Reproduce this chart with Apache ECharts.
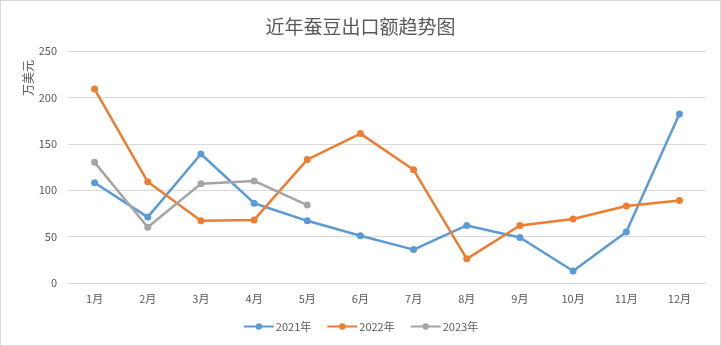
<!DOCTYPE html>
<html>
<head>
<meta charset="utf-8">
<script src="https://cdn.jsdelivr.net/npm/echarts@6/dist/echarts.min.js"></script>
<style>
  html, body { margin: 0; padding: 0; background: #fff; }
  #chart { width: 719px; height: 344px; border: 1px solid #d9d9d9; }
</style>
</head>
<body>
<div id="chart"></div>
<script>
// Monthly broad-bean export value (10k USD)
const months = ['1月', '2月', '3月', '4月', '5月', '6月', '7月', '8月', '9月', '10月', '11月', '12月'];
const seriesNames = ['2021年', '2022年', '2023年'];
const values2021 = [108, 71, 139, 86, 67, 51, 36, 62, 49, 13, 55, 182];
const values2022 = [209, 109, 67, 68, 133, 161, 122, 26, 62, 69, 83, 89];
const values2023 = [130, 60, 107, 110, 84];
const colors = ['#5B9BD5', '#ED7D31', '#A5A5A5'];
const unitName = '万美元';

const font = '"Noto Sans CJK SC", "Noto Sans", sans-serif';
const chart = echarts.init(document.getElementById('chart'));

function lineSeries(name, data, color) {
  return {
    name: name,
    type: 'line',
    data: data,
    symbol: 'circle',
    symbolSize: 7,
    lineStyle: { width: 2.5, color: color },
    itemStyle: { color: color },
    emphasis: { disabled: true },
    animation: false
  };
}

chart.setOption({
  animation: false,
  color: colors,
  title: {
    text: '近年蚕豆出口额趋势图',
    left: 'center',
    top: 11,
    textStyle: { fontFamily: font, fontSize: 19, fontWeight: 'normal', color: '#595959' }
  },
  // vertical unit label beside the value axis
  graphic: [{
    type: 'text',
    x: 27,
    y: 77,
    rotation: Math.PI / 2,
    style: {
      text: unitName,
      font: '12px ' + font,
      fill: '#595959',
      align: 'center',
      verticalAlign: 'middle'
    }
  }],
  grid: { left: 67, right: 14, top: 50, bottom: 62 },
  legend: {
    bottom: 8,
    left: 'center',
    itemWidth: 30,
    itemHeight: 8,
    itemGap: 15,
    textStyle: { fontFamily: font, fontSize: 11, color: '#595959', padding: [0, 0, 0, -3] },
    data: seriesNames
  },
  xAxis: {
    type: 'category',
    data: months,
    boundaryGap: true,
    axisLine: { show: true, lineStyle: { color: '#d9d9d9' } },
    axisTick: { show: false },
    axisLabel: { fontFamily: font, fontSize: 11, color: '#595959', margin: 10 }
  },
  yAxis: {
    type: 'value',
    min: 0,
    max: 250,
    interval: 50,
    axisLine: { show: false },
    axisTick: { show: false },
    axisLabel: { fontFamily: font, fontSize: 11, color: '#595959', margin: 11 },
    splitLine: { lineStyle: { color: '#d9d9d9', width: 1 } }
  },
  series: [
    lineSeries(seriesNames[0], values2021, colors[0]),
    lineSeries(seriesNames[1], values2022, colors[1]),
    lineSeries(seriesNames[2], values2023, colors[2])
  ]
});
</script>
</body>
</html>
